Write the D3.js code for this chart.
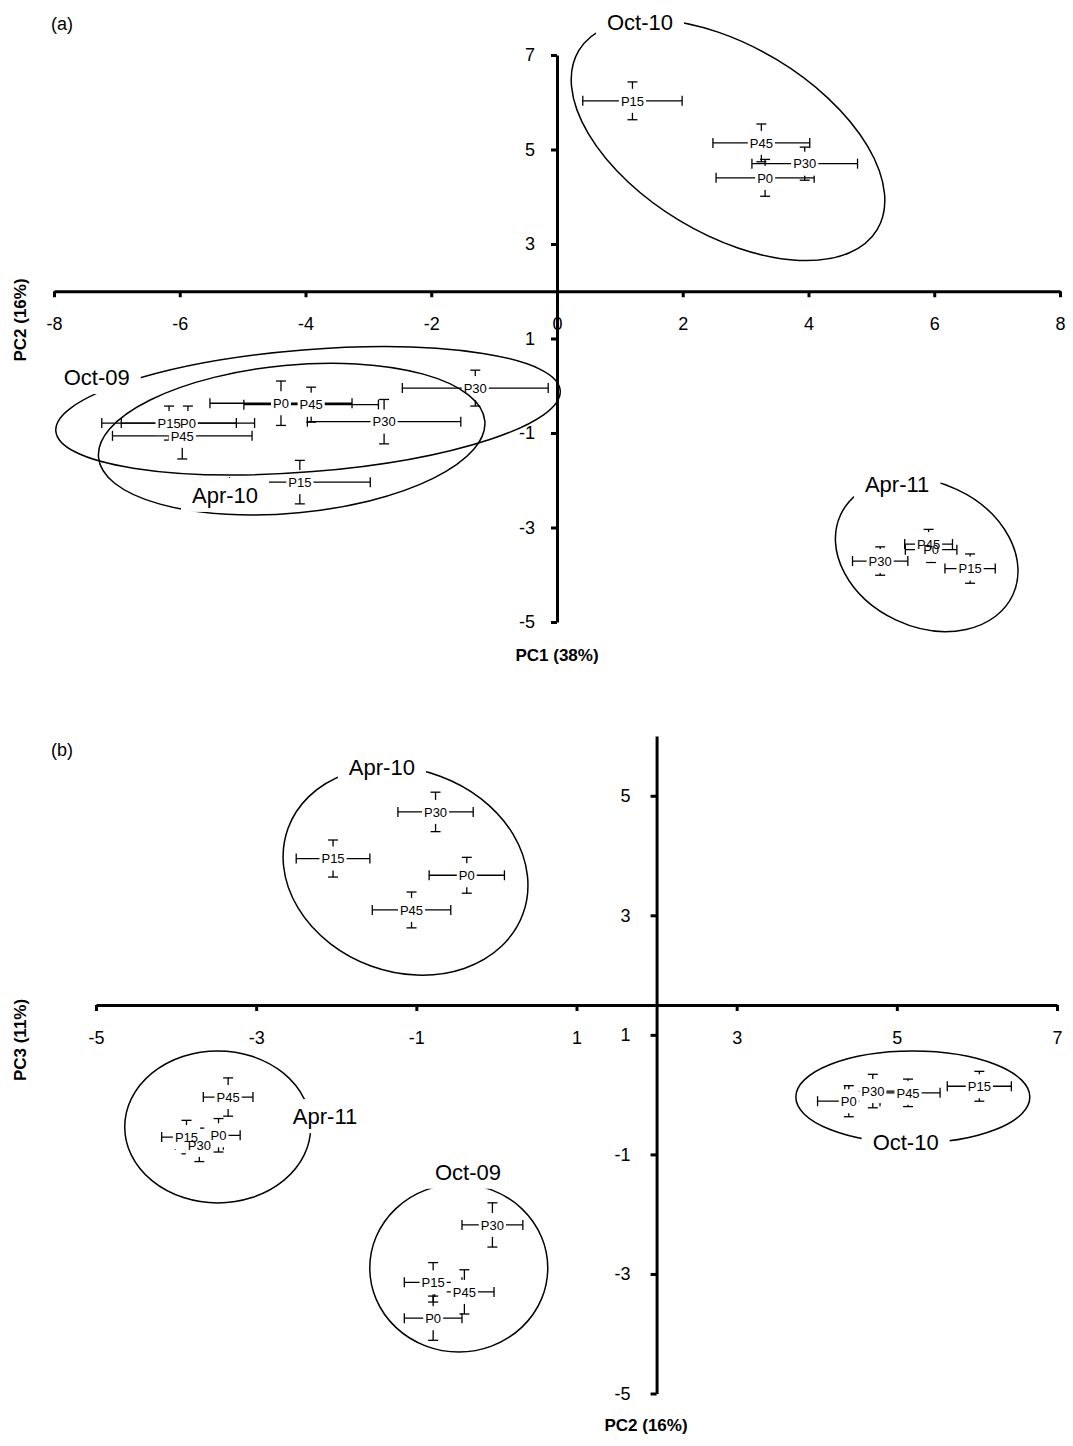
<!DOCTYPE html>
<html><head><meta charset="utf-8">
<script src="https://cdn.jsdelivr.net/npm/d3@7"></script>
<style>body{margin:0;background:#fff}</style>
</head><body><svg id="chart" width="1073" height="1446"></svg>
<script>
// ---------------- data ----------------
const treatments = ["P0", "P15", "P30", "P45"];
const groups = ["Oct-09", "Apr-10", "Oct-10", "Apr-11"];
// rows = groups, columns = treatments
const pc1Mean = [
  [-5.87, -6.17, -1.30, -3.91],
  [-4.39, -4.09, -2.75, -5.96],
  [ 3.31,  1.20,  3.94,  3.25],
  [ 5.95,  6.57,  5.14,  5.91]
];
const pc1SE = [
  [1.06, 1.07, 1.16, 1.07],
  [1.13, 1.12, 1.22, 1.11],
  [0.78, 0.79, 0.84, 0.77],
  [0.41, 0.40, 0.44, 0.38]
];
const pc2Mean = [
  [-0.79, -0.79, -0.05, -0.40],
  [-0.37, -2.04, -0.76, -1.06],
  [ 4.40,  6.03,  4.70,  5.14],
  [-3.47, -3.87, -3.71, -3.35]
];
const pc2SE = [
  [0.36, 0.36, 0.38, 0.37],
  [0.47, 0.46, 0.47, 0.49],
  [0.39, 0.40, 0.35, 0.40],
  [0.27, 0.31, 0.30, 0.31]
];
const pc3Mean = [
  [-3.74, -3.14, -2.18, -3.30],
  [ 3.67,  3.95,  4.73,  3.09],
  [-0.11,  0.14,  0.06,  0.03],
  [-0.68, -0.71, -0.84, -0.04]
];
const pc3SE = [
  [0.37, 0.33, 0.37, 0.37],
  [0.30, 0.31, 0.33, 0.30],
  [0.26, 0.25, 0.28, 0.23],
  [0.28, 0.28, 0.28, 0.32]
];
const panelAxTicks = [-8, -6, -4, -2, 0, 2, 4, 6, 8];
const panelAyTicks = [7, 5, 3, 1, -1, -3, -5];
const panelBxTicks = [-5, -3, -1, 1, 3, 5, 7];
const panelByTicks = [5, 3, 1, -1, -3, -5];

// group ellipse annotations (centre in data units)
const ellipsesA = [
  {group: "Oct-10", cx: 2.72, cy: 5.20, a: 174, b: 94, rot: 31},
  {group: "Oct-09", cx: -3.96, cy: -0.53, a: 253, b: 61, rot: -4.6},
  {group: "Apr-10", cx: -4.22, cy: -1.13, a: 194, b: 74, rot: -5.4},
  {group: "Apr-11", cx: 5.88, cy: -3.58, a: 95, b: 72, rot: 25}
];
const groupLabelsA = [
  {text: "Oct-10", x: 1.32, y: 7.70},
  {text: "Oct-09", x: -7.32, y: 0.185},
  {text: "Apr-10", x: -5.28, y: -2.31},
  {text: "Apr-11", x: 5.41, y: -2.08}
];
const ellipsesB = [
  {group: "Apr-10", cx: -1.135, cy: 3.74, a: 125, b: 101, rot: 20},
  {group: "Oct-09", cx: -0.47, cy: -2.90, a: 89, b: 84, rot: 0},
  {group: "Oct-10", cx: 5.20, cy: -0.04, a: 117, b: 46, rot: 0},
  {group: "Apr-11", cx: -3.48, cy: -0.54, a: 93, b: 76, rot: 0}
];
const groupLabelsB = [
  {text: "Apr-10", x: -1.43, y: 5.48},
  {text: "Oct-09", x: -0.355, y: -1.29},
  {text: "Oct-10", x: 5.11, y: -0.79},
  {text: "Apr-11", x: -2.14, y: -0.36}
];

// ---------------- drawing ----------------
const FONT = '"Liberation Sans", Arial, Helvetica, sans-serif';
const svg = d3.select("#chart").style("font-family", FONT);

function points(xm, xs, ym, ys) {
  const out = [];
  groups.forEach((g, gi) => treatments.forEach((t, ti) => {
    out.push({group: g, label: t, x: xm[gi][ti], xe: xs[gi][ti], y: ym[gi][ti], ye: ys[gi][ti]});
  }));
  return out;
}

function drawPanel(o) {
  const {x, y, xCross, yCross, xTicks, yTicks, data, ellipses, glabels} = o;
  const g = svg.append("g");

  // axes
  const ax = g.append("g").attr("transform", `translate(0,${y(yCross)})`)
    .call(d3.axisBottom(x).tickValues(xTicks).tickSize(6).tickSizeOuter(0).tickPadding(20).tickFormat(d => String(d)));
  const ay = g.append("g").attr("transform", `translate(${x(xCross)},0)`)
    .call(d3.axisLeft(y).tickValues(yTicks).tickSize(6).tickSizeOuter(0).tickPadding(o.yPad).tickFormat(d => String(d)));
  [ax, ay].forEach(a => {
    a.select(".domain").attr("stroke", "#000").attr("stroke-width", 3);
    a.selectAll(".tick line").attr("stroke", "#000").attr("stroke-width", 3);
    a.selectAll(".tick text").attr("fill", "#000").attr("font-size", 18).attr("font-family", FONT);
  });
  ay.raise();

  // error bars
  const eb = g.append("g").attr("stroke", "#000").attr("stroke-width", 1.3).attr("fill", "none");
  const cap = 5;
  data.forEach(d => {
    const cx = x(d.x), cy = y(d.y);
    const x0 = x(d.x - d.xe), x1 = x(d.x + d.xe);
    const y0 = y(d.y + d.ye), y1 = y(d.y - d.ye);
    eb.append("line").attr("x1", x0).attr("x2", x1).attr("y1", cy).attr("y2", cy);
    eb.append("line").attr("x1", x0).attr("x2", x0).attr("y1", cy - cap).attr("y2", cy + cap);
    eb.append("line").attr("x1", x1).attr("x2", x1).attr("y1", cy - cap).attr("y2", cy + cap);
    eb.append("line").attr("x1", cx).attr("x2", cx).attr("y1", y0).attr("y2", y1);
    eb.append("line").attr("x1", cx - cap).attr("x2", cx + cap).attr("y1", y0).attr("y2", y0);
    eb.append("line").attr("x1", cx - cap).attr("x2", cx + cap).attr("y1", y1).attr("y2", y1);
  });

  // point labels: boxes first, then texts
  const boxes = g.append("g");
  const texts = g.append("g");
  data.forEach(d => {
    const t = texts.append("text").attr("x", x(d.x)).attr("y", y(d.y)).attr("dy", "0.36em")
      .attr("text-anchor", "middle").attr("font-size", 13).attr("fill", "#000").text(d.label);
    const w = t.node().getComputedTextLength();
    boxes.append("rect").attr("x", x(d.x) - w / 2 - 2).attr("y", y(d.y) - 12)
      .attr("width", w + 4).attr("height", 24).attr("fill", "#fff");
  });

  // ellipses
  const eg = g.append("g").attr("fill", "none").attr("stroke", "#000").attr("stroke-width", 1.5);
  ellipses.forEach(e => {
    const cx = x(e.cx), cy = y(e.cy);
    eg.append("ellipse").attr("cx", cx).attr("cy", cy).attr("rx", e.a).attr("ry", e.b)
      .attr("transform", `rotate(${e.rot} ${cx} ${cy})`);
  });

  // group labels
  glabels.forEach(l => {
    const gg = g.append("g");
    const r = gg.append("rect").attr("fill", "#fff");
    const t = gg.append("text").attr("x", x(l.x)).attr("y", y(l.y)).attr("dy", "0.36em")
      .attr("text-anchor", "middle").attr("font-size", 22).attr("fill", "#000").text(l.text);
    const w = t.node().getComputedTextLength();
    r.attr("x", x(l.x) - w / 2 - 11).attr("y", y(l.y) - 17).attr("width", w + 22).attr("height", 34);
  });
}

// Panel (a)
const xa = d3.scaleLinear().domain([-8, 8]).range([54, 1060]);
const ya = d3.scaleLinear().domain([-5, 7]).range([622, 55]);
drawPanel({x: xa, y: ya, xCross: 0, yCross: 2, xTicks: panelAxTicks, yTicks: panelAyTicks, yPad: 16,
  data: points(pc1Mean, pc1SE, pc2Mean, pc2SE), ellipses: ellipsesA, glabels: groupLabelsA});

// Panel (b)
const xb = d3.scaleLinear().domain([-5, 7]).range([96, 1057]);
const yb = d3.scaleLinear().domain([-5, 6]).range([1393.5, 736]);
drawPanel({x: xb, y: yb, xCross: 2, yCross: 1.5, xTicks: panelBxTicks, yTicks: panelByTicks, yPad: 20,
  data: points(pc2Mean, pc2SE, pc3Mean, pc3SE), ellipses: ellipsesB, glabels: groupLabelsB});

// titles
function txt(s, x, y, opts = {}) {
  const t = svg.append("text").attr("x", x).attr("y", y).attr("dy", "0.36em")
    .attr("text-anchor", "middle").attr("font-size", opts.size || 17)
    .attr("font-weight", opts.bold ? "bold" : "normal").attr("fill", "#000").text(s);
  if (opts.rot) t.attr("transform", `rotate(-90 ${x} ${y})`);
  return t;
}
txt("(a)", 62, 24, {size: 18});
txt("(b)", 62, 750, {size: 18});
txt("PC1 (38%)", 557, 655, {bold: true});
txt("PC2 (16%)", 20, 320, {bold: true, rot: true});
txt("PC3 (11%)", 20, 1040, {bold: true, rot: true});
txt("PC2 (16%)", 646, 1425, {bold: true});
</script>
</body></html>
